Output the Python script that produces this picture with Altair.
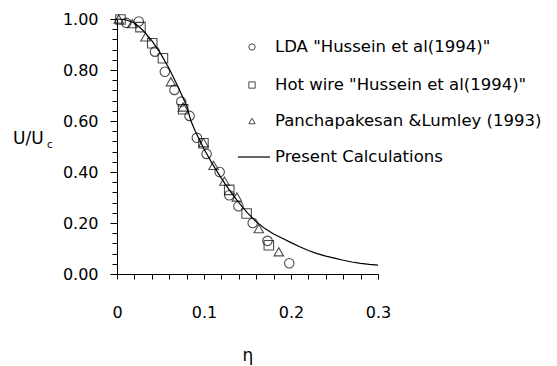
import altair as alt
import pandas as pd

# ---------------- data ----------------
lda_eta = [0.0107, 0.025, 0.0436, 0.055, 0.066, 0.0738, 0.0834, 0.0918, 0.103, 0.118, 0.129, 0.1396, 0.156, 0.173, 0.198]
lda_u   = [0.985, 0.99, 0.872, 0.793, 0.722, 0.676, 0.62, 0.534, 0.471, 0.40, 0.309, 0.266, 0.20, 0.13, 0.042]

hw_eta = [0.004, 0.027, 0.0405, 0.0528, 0.076, 0.0994, 0.129, 0.149, 0.1745]
hw_u   = [0.998, 0.968, 0.905, 0.846, 0.646, 0.513, 0.33, 0.237, 0.113]

pl_eta = [0.002, 0.0176, 0.0328, 0.062, 0.076, 0.0994, 0.111, 0.1235, 0.1378, 0.163, 0.186]
pl_u   = [1.0, 0.982, 0.93, 0.754, 0.655, 0.515, 0.426, 0.364, 0.302, 0.178, 0.087]

calc_eta = [0.0, 0.01, 0.02, 0.03, 0.04, 0.05, 0.06, 0.07, 0.08, 0.085, 0.09, 0.10, 0.11, 0.12, 0.13,
            0.14, 0.15, 0.16, 0.17, 0.18, 0.19, 0.20, 0.21, 0.22, 0.23, 0.24, 0.25, 0.26, 0.27, 0.28, 0.29, 0.30]
calc_u   = [1.0, 0.997, 0.985, 0.955, 0.915, 0.865, 0.805, 0.735, 0.66, 0.60, 0.56, 0.49, 0.43, 0.375, 0.325,
            0.28, 0.24, 0.205, 0.178, 0.157, 0.14, 0.123, 0.107, 0.092, 0.08, 0.07, 0.062, 0.054, 0.047, 0.042, 0.038, 0.035]

series_names = ['LDA "Hussein et al(1994)"', 'Hot wire "Hussein et al(1994)"', 'Panchapakesan &Lumley (1993)']
series_shapes = ['circle', 'square', 'triangle-up']
line_name = "Present Calculations"

x_ticks = [0.0, 0.02, 0.04, 0.06, 0.08, 0.1, 0.12, 0.14, 0.16, 0.18, 0.2, 0.22, 0.24, 0.26, 0.28, 0.3]
y_ticks = [0.0, 0.04, 0.08, 0.12, 0.16, 0.2, 0.24, 0.28, 0.32, 0.36, 0.4, 0.44, 0.48, 0.52, 0.56, 0.6,
           0.64, 0.68, 0.72, 0.76, 0.8, 0.84, 0.88, 0.92, 0.96, 1.0]

# ---------------- frames ----------------
pts = pd.concat([
    pd.DataFrame({"eta": lda_eta, "u": lda_u, "series": series_names[0]}),
    pd.DataFrame({"eta": hw_eta, "u": hw_u, "series": series_names[1]}),
    pd.DataFrame({"eta": pl_eta, "u": pl_u, "series": series_names[2]}),
])
line_df = pd.DataFrame({"eta": calc_eta, "u": calc_u})
one = pd.DataFrame({"k": [0]})  # single row for decoration marks

FONT = "DejaVu Sans"
W, H = 261, 255

xscale = alt.Scale(domain=[0, 0.3], nice=False, zero=False)
yscale = alt.Scale(domain=[0, 1.0], nice=False, zero=False)

xaxis = alt.Axis(
    values=x_ticks, tickCount=200, grid=False, domainColor="black", tickColor="black",
    tickSize=5, labelPadding=25, labelFontSize=16, labelFont=FONT, labelColor="black",
    labelExpr="abs(datum.value*10 - round(datum.value*10)) < 0.001 ? (datum.value == 0 ? '0' : format(datum.value, '.1f')) : ''",
    title="η", titleFont=FONT, titleFontSize=17, titleFontWeight="normal", titleColor="black",
    titlePadding=27, labelFlush=False, labelOverlap=False,
)
yaxis = alt.Axis(
    values=y_ticks, tickCount=200, grid=False, domainColor="black", tickColor="black",
    tickSize={"condition": {"test": "abs(datum.value*5 - round(datum.value*5)) < 0.001", "value": 7}, "value": 5},
    labelPadding=12, labelFontSize=16, labelFont=FONT, labelColor="black",
    labelExpr="abs(datum.value*5 - round(datum.value*5)) < 0.001 ? format(datum.value, '.2f') : ''",
    title=None, labelFlush=False, labelOverlap=False,
)

curve = alt.Chart(line_df).mark_line(color="black", strokeWidth=1.2).encode(
    x=alt.X("eta:Q", scale=xscale, axis=xaxis),
    y=alt.Y("u:Q", scale=yscale, axis=yaxis),
)

points = alt.Chart(pts).mark_point(filled=False, color="black", size=90, strokeWidth=1.1).encode(
    x=alt.X("eta:Q", scale=xscale, axis=xaxis),
    y=alt.Y("u:Q", scale=yscale, axis=yaxis),
    shape=alt.Shape("series:N", scale=alt.Scale(domain=series_names, range=series_shapes), legend=None),
)

# ---------------- custom legend & y title ----------------
leg_rows = [28, 66, 102, 138]
txt = dict(align="left", baseline="middle", font=FONT, fontSize=16.5, fontWeight="normal", color="black")
layers = [curve, points]
for i, (name, shp) in enumerate(zip(series_names, series_shapes)):
    layers.append(alt.Chart(one).mark_point(shape=shp, filled=False, color="black", size=40, strokeWidth=1).encode(
        x=alt.value(135), y=alt.value(leg_rows[i])))
    layers.append(alt.Chart(one).mark_text(**txt).encode(
        x=alt.value(158), y=alt.value(leg_rows[i]), text=alt.value(name)))
layers.append(alt.Chart(one).mark_rule(color="black", strokeWidth=1.2).encode(
    x=alt.value(121), x2=alt.value(153), y=alt.value(leg_rows[3])))
layers.append(alt.Chart(one).mark_text(**txt).encode(
    x=alt.value(158), y=alt.value(leg_rows[3]), text=alt.value(line_name)))

# y title "U/Uc"
layers.append(alt.Chart(one).mark_text(align="left", baseline="middle", font=FONT, fontSize=17,
                                       fontWeight="normal", color="black").encode(
    x=alt.value(-104), y=alt.value(120), text=alt.value("U/U")))
layers.append(alt.Chart(one).mark_text(align="left", baseline="middle", font=FONT, fontSize=10,
                                       fontWeight="normal", color="black").encode(
    x=alt.value(-70), y=alt.value(126), text=alt.value("c")))

chart = alt.layer(*layers).properties(
    width=W, height=H,
    autosize=alt.AutoSizeParams(type="none"),
    padding={"left": 117, "top": 19, "right": 557 - 117 - W, "bottom": 366 - 19 - H},
    background="white",
).configure_view(stroke=None).configure_axis(domainWidth=1, tickWidth=1)

chart.save("out.html", embed_options={"renderer": "svg", "actions": False})
